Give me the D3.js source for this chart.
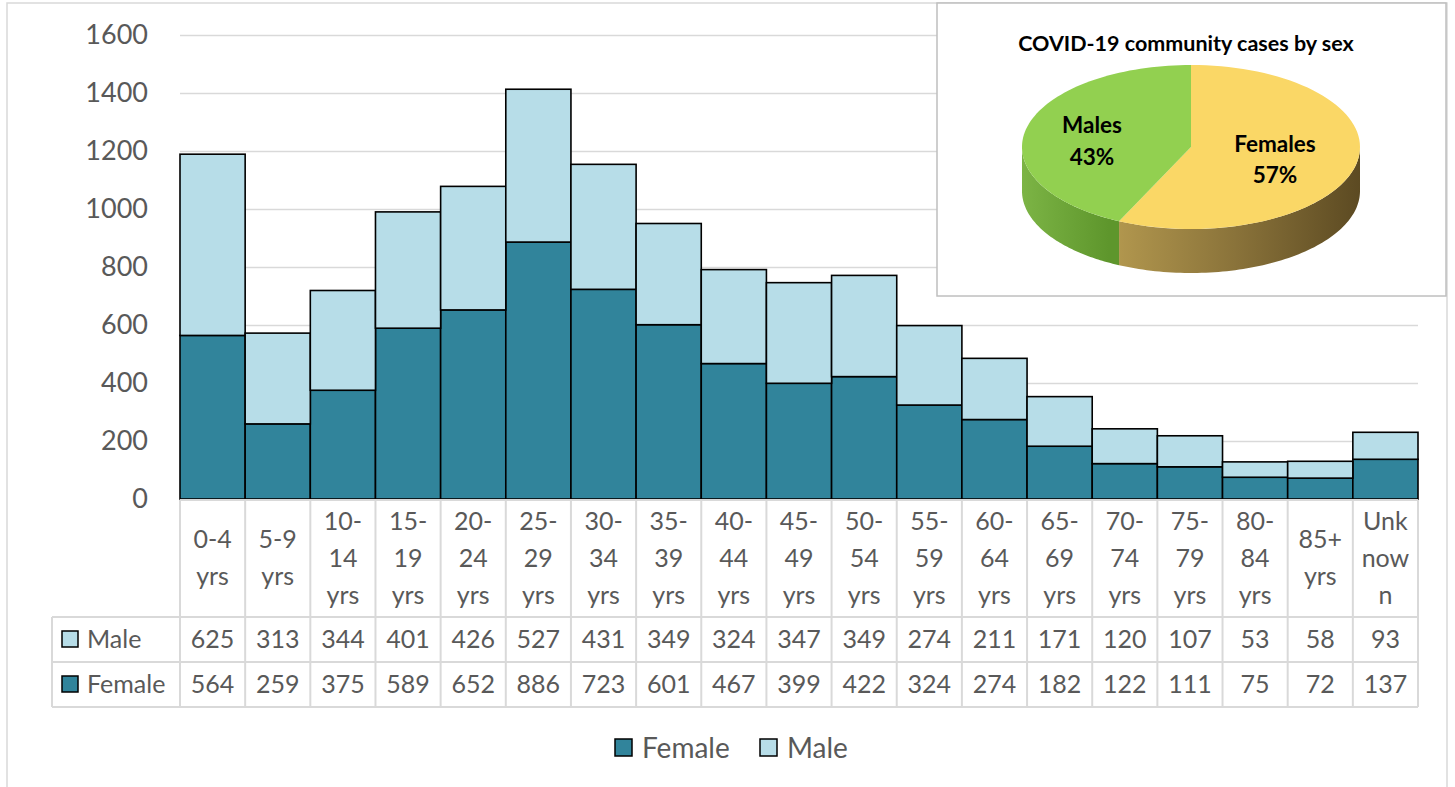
<!DOCTYPE html>
<html><head><meta charset="utf-8">
<script src="https://cdn.jsdelivr.net/npm/d3@7"></script>
<style>
html,body{margin:0;padding:0;background:#fff;}
svg{display:block;font-family:Lato,"Open Sans",sans-serif;}
</style></head>
<body>
<svg id="c" width="1455" height="787"></svg>
<script>
// ---- data ----
const categories = ["0-4 yrs","5-9 yrs","10-14 yrs","15-19 yrs","20-24 yrs","25-29 yrs","30-34 yrs","35-39 yrs","40-44 yrs","45-49 yrs","50-54 yrs","55-59 yrs","60-64 yrs","65-69 yrs","70-74 yrs","75-79 yrs","80-84 yrs","85+ yrs","Unknown"];
const categoryLines = [["0-4","yrs"],["5-9","yrs"],["10-","14","yrs"],["15-","19","yrs"],["20-","24","yrs"],["25-","29","yrs"],["30-","34","yrs"],["35-","39","yrs"],["40-","44","yrs"],["45-","49","yrs"],["50-","54","yrs"],["55-","59","yrs"],["60-","64","yrs"],["65-","69","yrs"],["70-","74","yrs"],["75-","79","yrs"],["80-","84","yrs"],["85+","yrs"],["Unk","now","n"]];
const male   = [625,313,344,401,426,527,431,349,324,347,349,274,211,171,120,107,53,58,93];
const female = [564,259,375,589,652,886,723,601,467,399,422,324,274,182,122,111,75,72,137];
const yTicks = [0,200,400,600,800,1000,1200,1400,1600];
const seriesNames = ["Male","Female"];
const pieTitle = "COVID-19 community cases by sex";
const pieLabels = ["Females","Males"];
const pieValues = [57,43];

// ---- style ----
const C_FEMALE = "#31849B", C_MALE = "#B7DDE8", TXT = "#595959", GRID = "#D9D9D9";
const svg = d3.select("#c");

// outer chart border
svg.append("rect").attr("x",7).attr("y",3).attr("width",1440).attr("height",790)
  .attr("fill","#fff").attr("stroke","#D9D9D9").attr("stroke-width",1.5);

const x = d3.scaleBand().domain(categories).range([180,1418]).paddingInner(0).paddingOuter(0);
const y = d3.scaleLinear().domain([0,1600]).range([499,35]);

// gridlines
svg.append("g").selectAll("line").data(yTicks.filter(d=>d>0)).join("line")
  .attr("x1",180).attr("x2",1418).attr("y1",d=>Math.round(y(d))+0.5).attr("y2",d=>Math.round(y(d))+0.5)
  .attr("stroke",GRID).attr("stroke-width",1.5);

// y axis labels via d3.axisLeft
const yAxis = svg.append("g").attr("transform","translate(160,0)")
  .call(d3.axisLeft(y).tickValues(yTicks).tickSize(0).tickPadding(12).tickFormat(d3.format("d")));
yAxis.select(".domain").remove();
yAxis.selectAll("text").attr("fill",TXT).style("font-size","27px").style("font-family","Lato,sans-serif");

// stacked bars
const stackData = categories.map((c,i)=>({cat:c, Female:female[i], Male:male[i]}));
const stack = d3.stack().keys(["Female","Male"])(stackData);
const colors = {Female:C_FEMALE, Male:C_MALE};
svg.append("g").selectAll("g").data(stack).join("g")
  .attr("fill",d=>colors[d.key])
  .selectAll("rect").data(d=>d).join("rect")
  .attr("x",d=>x(d.data.cat)).attr("width",x.bandwidth())
  .attr("y",d=>y(d[1])).attr("height",d=>y(d[0])-y(d[1]))
  .attr("stroke","#000").attr("stroke-width",1.6);

// data table
const tb = svg.append("g");
const rowTop = 500, hdrBottom = 617, row1Bottom = 662, row2Bottom = 707;
[[180,rowTop],[52,hdrBottom],[52,row1Bottom],[52,row2Bottom]].forEach(([x0,yy])=>{
  tb.append("line").attr("x1",x0).attr("x2",1418).attr("y1",yy).attr("y2",yy)
    .attr("stroke",GRID).attr("stroke-width",2);
});
const edges = categories.map(c=>x(c)).concat([x.range()[1]]);
edges.forEach(xx=>{
  tb.append("line").attr("x1",xx).attr("x2",xx).attr("y1",rowTop).attr("y2",row2Bottom)
    .attr("stroke",GRID).attr("stroke-width",2);
});
tb.append("line").attr("x1",52).attr("x2",52).attr("y1",hdrBottom).attr("y2",row2Bottom)
  .attr("stroke",GRID).attr("stroke-width",2);

// category header labels
const lh = 37;
categories.forEach((c,i)=>{
  const lines = categoryLines[i];
  const cx = x(c)+x.bandwidth()/2;
  const startY = 558 - (lines.length-1)*lh/2;
  const t = tb.append("text").attr("text-anchor","middle").attr("fill",TXT)
    .style("font-size","25px");
  lines.forEach((l,j)=>{
    t.append("tspan").attr("x",cx).attr("y",startY+j*lh).attr("dy","0.35em").text(l);
  });
});
// value rows
const rows = [{name:"Male",vals:male,color:C_MALE,cy:639},{name:"Female",vals:female,color:C_FEMALE,cy:684}];
rows.forEach(r=>{
  tb.append("rect").attr("x",62).attr("y",r.cy-8).attr("width",16).attr("height",16)
    .attr("fill",r.color).attr("stroke","#000").attr("stroke-width",1.5);
  tb.append("text").attr("x",87).attr("y",r.cy).attr("dy","0.35em").attr("fill",TXT)
    .style("font-size","25px").text(r.name);
  r.vals.forEach((v,i)=>{
    tb.append("text").attr("x",x(categories[i])+x.bandwidth()/2).attr("y",r.cy).attr("dy","0.35em")
      .attr("text-anchor","middle").attr("fill",TXT).style("font-size","25px").text(v);
  });
});

// legend
const legItems = [{name:"Female",color:C_FEMALE,x:615},{name:"Male",color:C_MALE,x:760}];
legItems.forEach(l=>{
  svg.append("rect").attr("x",l.x).attr("y",739).attr("width",17).attr("height",17)
    .attr("fill",l.color).attr("stroke","#000").attr("stroke-width",1.5);
  svg.append("text").attr("x",l.x+27).attr("y",748).attr("dy","0.35em").attr("fill",TXT)
    .style("font-size","28px").text(l.name);
});

// ---- pie inset ----
const pg = svg.append("g");
pg.append("rect").attr("x",937).attr("y",3).attr("width",509).attr("height",293)
  .attr("fill","#fff").attr("stroke","#BFBFBF").attr("stroke-width",1.5);
pg.append("text").attr("x",1186).attr("y",43).attr("dy","0.35em").attr("text-anchor","middle")
  .attr("fill","#000").style("font-weight","bold").style("font-size","21.5px").text(pieTitle);

const pcx = 1191, pcy = 147, rx = 169, ry = 82, depth = 44;
const arcs = d3.pie().sort(null).value(d=>d)(pieValues);
const px = a => pcx + rx*Math.sin(a);
const py = a => pcy - ry*Math.cos(a);
const defs = svg.append("defs");
function grad(id, stops){
  const g = defs.append("linearGradient").attr("id",id).attr("gradientUnits","userSpaceOnUse")
    .attr("x1",stops.x1).attr("x2",stops.x2).attr("y1",0).attr("y2",0);
  stops.s.forEach(([o,c])=>g.append("stop").attr("offset",o).attr("stop-color",c));
}
grad("gF",{x1:1109,x2:1360,s:[[0,"#B4994F"],[0.5,"#8A733A"],[1,"#5C4A22"]]});
grad("gM",{x1:1022,x2:1109,s:[[0,"#7CB445"],[1,"#5E962C"]]});
const topCols = ["#FAD766","#92D050"];
const sideFills = ["url(#gF)","url(#gM)"];
function arcPts(a0,a1,dy){
  const n = 80, pts=[];
  for(let k=0;k<=n;k++){ const a=a0+(a1-a0)*k/n; pts.push([px(a),py(a)+dy]); }
  return pts;
}
arcs.forEach((d,i)=>{
  const a0 = Math.max(d.startAngle, Math.PI/2), a1 = Math.min(d.endAngle, 3*Math.PI/2);
  if(a1<=a0) return;
  const top = arcPts(a0,a1,0), bot = arcPts(a0,a1,depth).reverse();
  const p = d3.path();
  top.forEach((pt,k)=> k? p.lineTo(pt[0],pt[1]) : p.moveTo(pt[0],pt[1]));
  bot.forEach(pt=>p.lineTo(pt[0],pt[1]));
  p.closePath();
  pg.append("path").attr("d",p.toString()).attr("fill",sideFills[i]);
});
arcs.forEach((d,i)=>{
  const pts = arcPts(d.startAngle,d.endAngle,0);
  const p = d3.path(); p.moveTo(pcx,pcy);
  pts.forEach(pt=>p.lineTo(pt[0],pt[1])); p.closePath();
  pg.append("path").attr("d",p.toString()).attr("fill",topCols[i]);
});
const labPos = [[1275,144,175],[1092,125,157]];
arcs.forEach((d,i)=>{
  const [lx,ly1,ly2] = labPos[i];
  pg.append("text").attr("x",lx).attr("y",ly1).attr("dy","0.35em").attr("text-anchor","middle")
    .style("font-weight","bold").style("font-size","22.5px").attr("fill","#000").text(pieLabels[i]);
  pg.append("text").attr("x",lx).attr("y",ly2).attr("dy","0.35em").attr("text-anchor","middle")
    .style("font-weight","bold").style("font-size","22.5px").attr("fill","#000").text(pieValues[i]+"%");
});
</script>
</body></html>
